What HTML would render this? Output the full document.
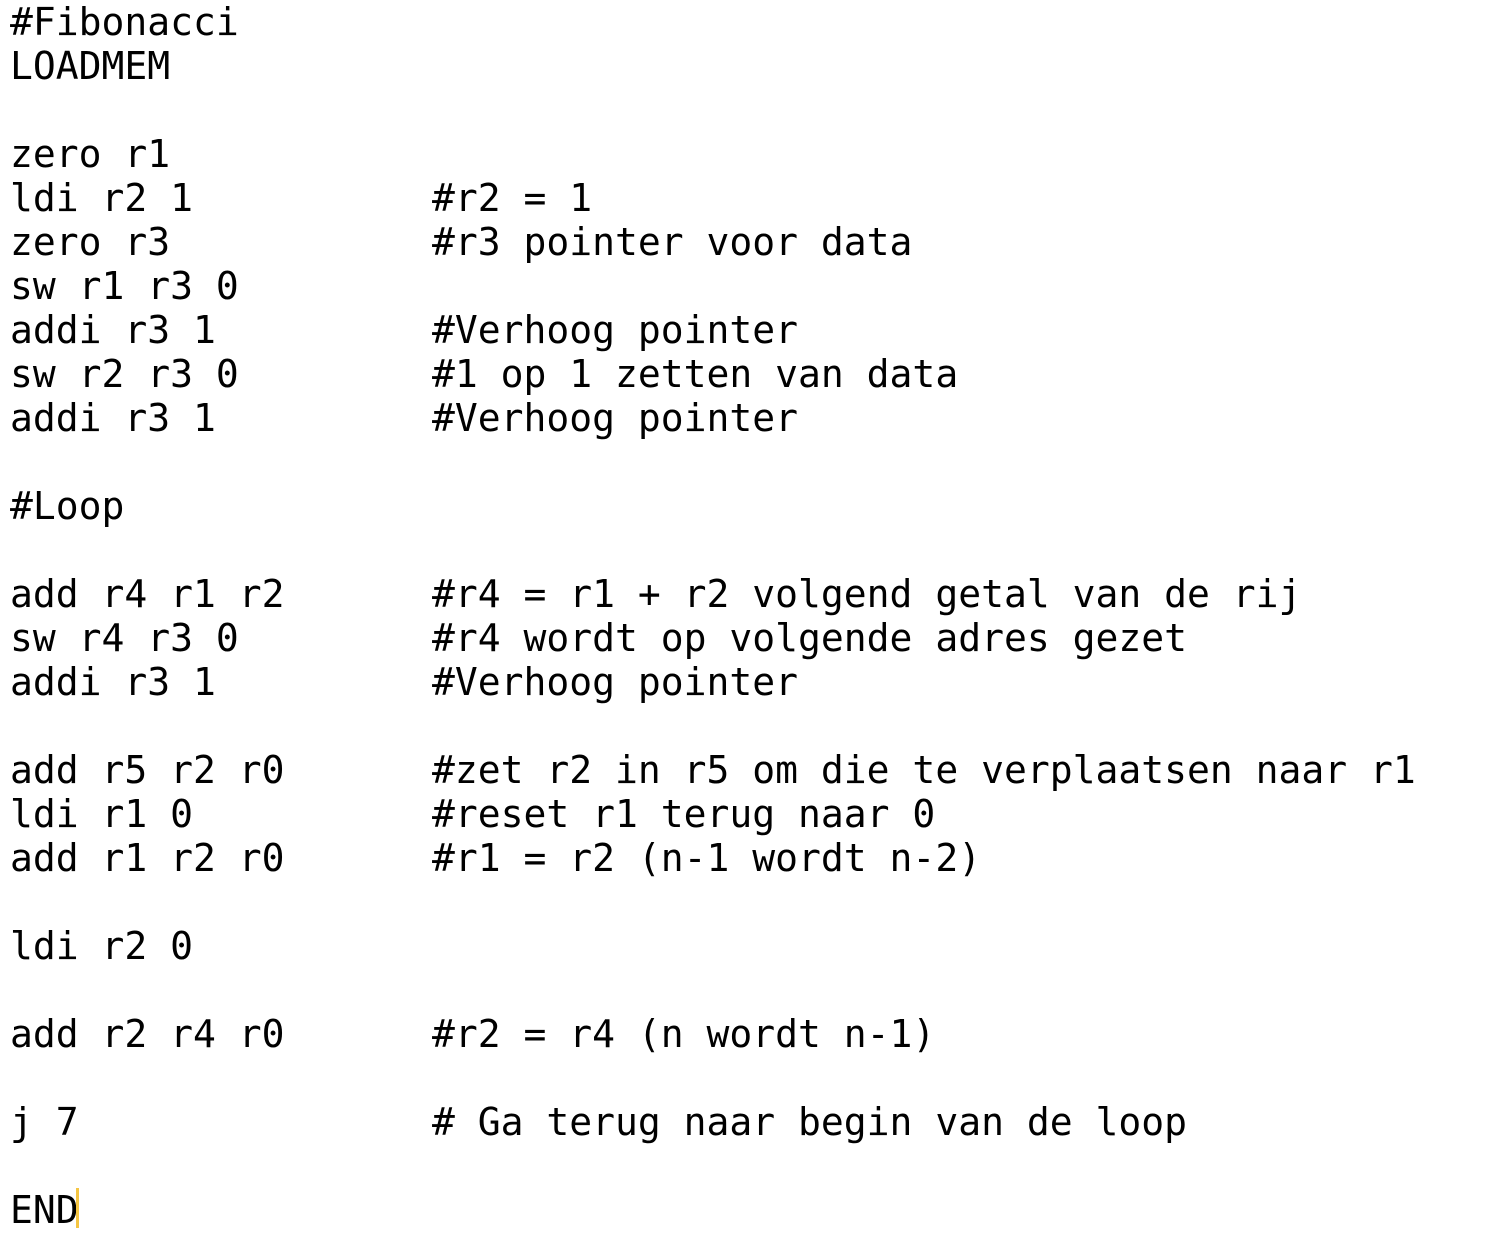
<!DOCTYPE html>
<html><head><meta charset="utf-8"><style>
html,body{margin:0;padding:0;background:#fff;}
body{width:1502px;height:1236px;overflow:hidden;position:relative;}
.c{position:absolute;left:10px;top:0px;font-family:"DejaVu Sans Mono","Liberation Mono",monospace;font-size:38px;line-height:44px;color:#000;}
.l{position:relative;height:44px;white-space:pre;}
.m{position:absolute;left:422px;top:0;}
.cur{position:absolute;left:76px;top:1188px;width:3px;height:40px;background:#f5c542;}
</style></head><body>
<div class="c"><div class="l">#Fibonacci</div><div class="l">LOADMEM</div><div class="l"></div><div class="l">zero r1</div><div class="l">ldi r2 1<span class="m">#r2 = 1</span></div><div class="l">zero r3<span class="m">#r3 pointer voor data</span></div><div class="l">sw r1 r3 0</div><div class="l">addi r3 1<span class="m">#Verhoog pointer</span></div><div class="l">sw r2 r3 0<span class="m">#1 op 1 zetten van data</span></div><div class="l">addi r3 1<span class="m">#Verhoog pointer</span></div><div class="l"></div><div class="l">#Loop</div><div class="l"></div><div class="l">add r4 r1 r2<span class="m">#r4 = r1 + r2 volgend getal van de rij</span></div><div class="l">sw r4 r3 0<span class="m">#r4 wordt op volgende adres gezet</span></div><div class="l">addi r3 1<span class="m">#Verhoog pointer</span></div><div class="l"></div><div class="l">add r5 r2 r0<span class="m">#zet r2 in r5 om die te verplaatsen naar r1</span></div><div class="l">ldi r1 0<span class="m">#reset r1 terug naar 0</span></div><div class="l">add r1 r2 r0<span class="m">#r1 = r2 (n-1 wordt n-2)</span></div><div class="l"></div><div class="l">ldi r2 0</div><div class="l"></div><div class="l">add r2 r4 r0<span class="m">#r2 = r4 (n wordt n-1)</span></div><div class="l"></div><div class="l">j 7<span class="m"># Ga terug naar begin van de loop</span></div><div class="l"></div><div class="l">END</div></div>
<div class="cur"></div>
</body></html>
